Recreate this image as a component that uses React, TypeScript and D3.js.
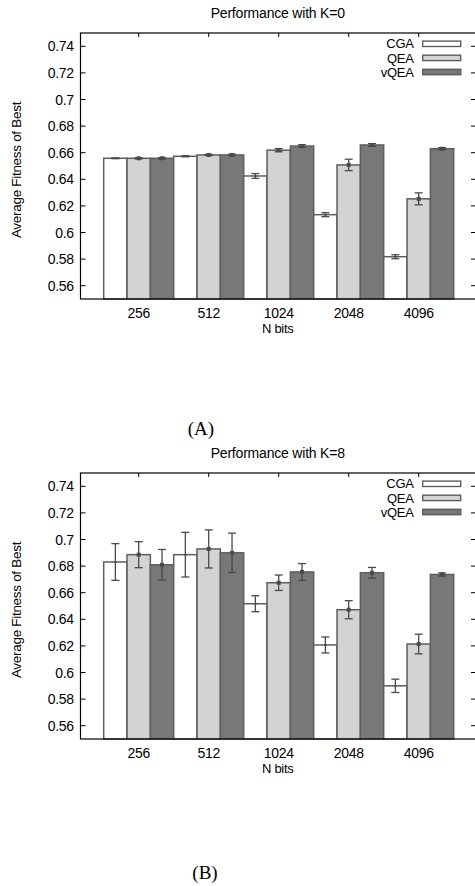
import React from "react";
import * as d3 from "d3";

const categories = ["256", "512", "1024", "2048", "4096"];
const seriesNames = ["CGA", "QEA", "vQEA"];
const yTicks = [0.56, 0.58, 0.6, 0.62, 0.64, 0.66, 0.68, 0.7, 0.72, 0.74];

// Performance with K=0
const k0CGA = [0.6558, 0.6573, 0.6425, 0.6134, 0.5818];
const k0QEA = [0.6558, 0.6583, 0.6619, 0.6508, 0.6253];
const k0vQEA = [0.6558, 0.6583, 0.665, 0.6658, 0.663];
const k0CGAErr = [0.0003, 0.0004, 0.0018, 0.0015, 0.0015];
const k0QEAErr = [0.0005, 0.0005, 0.0012, 0.0043, 0.0045];
const k0vQEAErr = [0.0006, 0.0006, 0.001, 0.001, 0.0008];

// Performance with K=8
const k8CGA = [0.6831, 0.6886, 0.6517, 0.6207, 0.59];
const k8QEA = [0.6886, 0.6929, 0.6675, 0.6472, 0.6214];
const k8vQEA = [0.681, 0.69, 0.6756, 0.675, 0.6737];
const k8CGAErr = [0.0138, 0.0168, 0.006, 0.006, 0.005];
const k8QEAErr = [0.0098, 0.0143, 0.0058, 0.0068, 0.0074];
const k8vQEAErr = [0.0115, 0.0148, 0.0063, 0.004, 0.0012];

const fills = ["#ffffff", "#d3d3d3", "#787878"];
const FONT = "'Liberation Sans', Arial, Helvetica, sans-serif";

const frameLeft = 80.5;
const frameRight = 477;
const frameTop = 33;
const frameBottom = 299;

type Panel = {
  title: string;
  means: number[][];
  errs: number[][];
};

function Chart({ panel, offsetY }: { panel: Panel; offsetY: number }) {
  const y = d3.scaleLinear().domain([0.55, 0.75]).range([frameBottom, frameTop]);
  const x0 = d3.scaleBand().domain(categories).range([103.7, 453.7]).padding(0);
  const x1 = d3.scaleBand().domain(seriesNames).range([0, x0.bandwidth()]).padding(0);
  const legendRows = [43.8, 57.9, 72];

  return (
    <g transform={`translate(0,${offsetY})`}>
      <text x={(frameLeft + 475) / 2} y={18.3} textAnchor="middle" fontFamily={FONT} fontSize={14} fill="#000" letterSpacing={-0.2}>
        {panel.title}
      </text>
      {/* bars */}
      {categories.map((c, ci) =>
        seriesNames.map((s, si) => {
          const v = panel.means[si][ci];
          const bx = (x0(c) as number) + (x1(s) as number);
          return (
            <rect key={`b${c}${s}`} x={bx} y={y(v)} width={x1.bandwidth()} height={frameBottom - y(v)}
              fill={fills[si]} stroke="#5e5e5e" strokeWidth={1.5} />
          );
        })
      )}
      {/* error bars */}
      {categories.map((c, ci) =>
        seriesNames.map((s, si) => {
          const v = panel.means[si][ci];
          const e = panel.errs[si][ci];
          const cx = (x0(c) as number) + (x1(s) as number) + x1.bandwidth() / 2;
          const yt = y(v + e);
          const yb = y(v - e);
          return (
            <g key={`e${c}${s}`} stroke="#4a4a4a" strokeWidth={1.3}>
              <line x1={cx} x2={cx} y1={yt} y2={yb} />
              <line x1={cx - 4} x2={cx + 4} y1={yt} y2={yt} />
              <line x1={cx - 4} x2={cx + 4} y1={yb} y2={yb} />
              {si === 0 ? (
                <line x1={cx - 1.5} x2={cx + 1.5} y1={y(v)} y2={y(v)} />
              ) : (
                <rect x={cx - 2} y={y(v) - 2} width={4} height={4} fill="#4a4a4a" stroke="none" />
              )}
            </g>
          );
        })
      )}
      {/* frame */}
      <rect x={frameLeft} y={frameTop} width={frameRight - frameLeft} height={frameBottom - frameTop}
        fill="none" stroke="#000" strokeWidth={1.2} />
      {/* y ticks */}
      {yTicks.map((t) => (
        <g key={`yt${t}`}>
          <line x1={frameLeft} x2={frameLeft + 5} y1={y(t)} y2={y(t)} stroke="#000" strokeWidth={1} />
          <line x1={frameRight - 6} x2={frameRight - 1} y1={y(t)} y2={y(t)} stroke="#000" strokeWidth={1} />
          <text x={73.8} y={y(t)} dy="0.36em" textAnchor="end" fontFamily={FONT} fontSize={14} fill="#000" letterSpacing={-0.3}>
            {d3.format("")(t)}
          </text>
        </g>
      ))}
      {/* x ticks */}
      {categories.map((c) => {
        const cx = (x0(c) as number) + x0.bandwidth() / 2;
        return (
          <g key={`xt${c}`}>
            <line x1={cx} x2={cx} y1={frameTop} y2={frameTop + 4} stroke="#000" strokeWidth={1} />
            <text x={cx} y={318.3} textAnchor="middle" fontFamily={FONT} fontSize={14} fill="#000" letterSpacing={-0.3}>
              {c}
            </text>
          </g>
        );
      })}
      <text x={(frameLeft + 475) / 2} y={333} textAnchor="middle" fontFamily={FONT} fontSize={13} fill="#000" letterSpacing={-0.3}>
        N bits
      </text>
      <text transform={`translate(21,170) rotate(-90)`} textAnchor="middle" fontFamily={FONT} fontSize={13.5} fill="#000" letterSpacing={-0.3}>
        Average Fitness of Best
      </text>
      {/* legend */}
      {seriesNames.map((s, si) => (
        <g key={`lg${s}`}>
          <rect x={422.7} y={legendRows[si] - 2.7} width={38} height={5.4} fill={fills[si]} stroke="#5e5e5e" strokeWidth={1.4} />
          <text x={413.8} y={legendRows[si]} dy="0.36em" textAnchor="end" fontFamily={FONT} fontSize={13} fill="#000" letterSpacing={-0.2}>
            {s}
          </text>
        </g>
      ))}
    </g>
  );
}

export default function App() {
  const panelA: Panel = {
    title: "Performance with K=0",
    means: [k0CGA, k0QEA, k0vQEA],
    errs: [k0CGAErr, k0QEAErr, k0vQEAErr],
  };
  const panelB: Panel = {
    title: "Performance with K=8",
    means: [k8CGA, k8QEA, k8vQEA],
    errs: [k8CGAErr, k8QEAErr, k8vQEAErr],
  };
  return (
    <svg width={475} height={886} style={{ position: "absolute", left: 0, top: 0, background: "#fff" }}>
      <rect x={0} y={0} width={475} height={886} fill="#fff" />
      <Chart panel={panelA} offsetY={0} />
      <text x={201} y={434.7} textAnchor="middle" fontFamily="'Liberation Serif', 'Times New Roman', serif" fontSize={19} fill="#000">
        (A)
      </text>
      <Chart panel={panelB} offsetY={440} />
      <text x={205} y={879} textAnchor="middle" fontFamily="'Liberation Serif', 'Times New Roman', serif" fontSize={19} fill="#000">
        (B)
      </text>
    </svg>
  );
}
